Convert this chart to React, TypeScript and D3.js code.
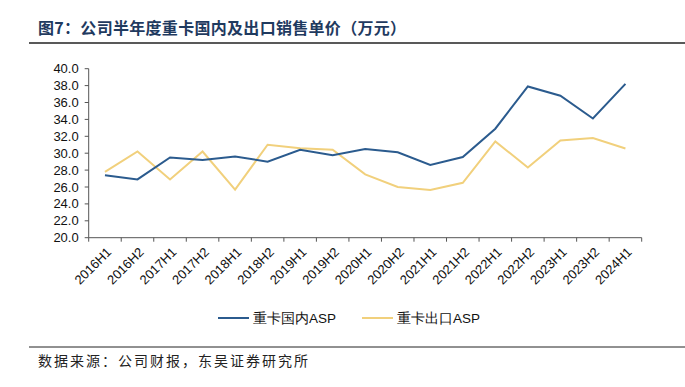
import React from "react";
import * as d3 from "d3";

const categories = ["2016H1","2016H2","2017H1","2017H2","2018H1","2018H2","2019H1","2019H2","2020H1","2020H2","2021H1","2021H2","2022H1","2022H2","2023H1","2023H2","2024H1"];
const domestic = [27.4,26.9,29.5,29.2,29.6,29.0,30.4,29.75,30.5,30.1,28.6,29.55,32.9,37.9,36.8,34.1,38.2];
const exportAsp = [27.8,30.2,26.9,30.2,25.7,31.0,30.6,30.4,27.5,26.0,25.65,26.5,31.4,28.3,31.5,31.8,30.55];
const yTicks = [20,22,24,26,28,30,32,34,36,38,40];
const seriesNames = ["重卡国内ASP","重卡出口ASP"];
const colors = ["#2b5b8e","#f1d07c"];

export default function App() {
  const W = 685, H = 387;
  const left = 88.7, right = 641.7, top = 68.7, bottom = 237.7;
  const x = d3.scaleBand().domain(categories).range([left, right]);
  const y = d3.scaleLinear().domain([20, 40]).range([bottom, top]);
  const line = d3.line<number>().x((_, i) => (x(categories[i]) as number) + x.bandwidth() / 2).y(d => y(d));
  const font = "'Liberation Sans', Arial, sans-serif";
  const cjk = "'Noto Sans CJK SC', sans-serif";
  const tickPositions = categories.map(c => x(c) as number).concat([right]);
  return (
    <svg width={W} height={H} style={{ position: "absolute", left: 0, top: 0, background: "#fff" }}>
      <text x={38} y={34} fontFamily={cjk} fontWeight="bold" fontSize={16} letterSpacing={0.3} fill="#1f3a5f">图7：公司半年度重卡国内及出口销售单价（万元）</text>
      <line x1={29} x2={685} y1={43} y2={43} stroke="#222" strokeWidth={1.5} />
      {/* y axis */}
      <line x1={left} x2={left} y1={top} y2={bottom} stroke="#555" />
      {yTicks.map(t => (
        <g key={t}>
          <line x1={left - 4} x2={left} y1={y(t)} y2={y(t)} stroke="#555" />
          <text x={left - 10} y={y(t)} dy="0.35em" textAnchor="end" fontFamily={font} fontSize={13} fill="#111">{t.toFixed(1)}</text>
        </g>
      ))}
      {/* x axis */}
      <line x1={left} x2={right} y1={bottom} y2={bottom} stroke="#555" />
      {tickPositions.map((p, i) => (
        <line key={i} x1={p} x2={p} y1={bottom} y2={bottom + 4} stroke="#555" />
      ))}
      {categories.map(c => {
        const cx = (x(c) as number) + x.bandwidth() / 2 + 4;
        const cy = bottom + 12;
        return (
          <text key={c} transform={`translate(${cx},${cy}) rotate(-45)`} textAnchor="end" dy="0.35em" fontFamily={font} fontSize={13} fill="#111">{c}</text>
        );
      })}
      <path d={line(exportAsp) || ""} fill="none" stroke={colors[1]} strokeWidth={2} />
      <path d={line(domestic) || ""} fill="none" stroke={colors[0]} strokeWidth={2} />
      {/* legend */}
      <line x1={218} x2={249} y1={318} y2={318} stroke={colors[0]} strokeWidth={2} />
      <text x={253} y={318} dy="0.35em" fontFamily={font} fontSize={13.5} fill="#111">{seriesNames[0]}</text>
      <line x1={362} x2={393} y1={318} y2={318} stroke={colors[1]} strokeWidth={2} />
      <text x={397} y={318} dy="0.35em" fontFamily={font} fontSize={13.5} fill="#111">{seriesNames[1]}</text>
      <line x1={29} x2={685} y1={347} y2={347} stroke="#222" strokeWidth={1} />
      <text x={38} y={366} fontFamily={cjk} fontSize={14} letterSpacing={2} fill="#222">数据来源：公司财报，东吴证券研究所</text>
    </svg>
  );
}
